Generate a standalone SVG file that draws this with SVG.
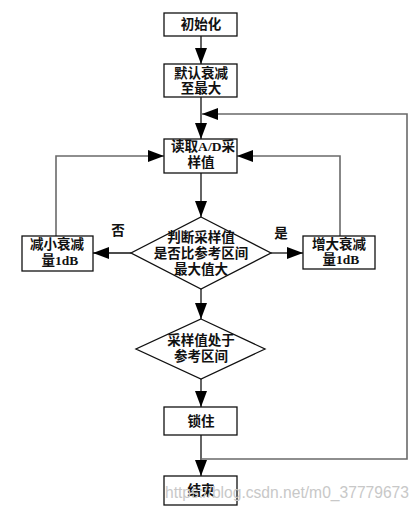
<svg xmlns="http://www.w3.org/2000/svg" width="420" height="512" viewBox="0 0 420 512">
<style>
.box{fill:#fff;stroke:#111;stroke-width:1.3}
.t{font-family:"Liberation Serif","Noto Sans CJK SC",serif;font-size:13.5px;font-weight:bold;fill:#111;text-anchor:middle}
.c{fill:none;stroke:#111;stroke-width:1.3}
.g{fill:none;stroke:#6a6a6a;stroke-width:1.6}
.wm{font-family:"Liberation Sans",Arial,sans-serif;font-size:16px;fill:#c8c8c8}
</style>
<defs>
<marker id="ah" markerUnits="userSpaceOnUse" markerWidth="16" markerHeight="12" refX="16" refY="6" orient="auto">
<path d="M0,0 L16,6 L0,12 z" fill="#000"/>
</marker>
</defs>
<rect width="420" height="512" fill="#fff"/>
<g id="connectors">
<line class="c" x1="201" y1="36" x2="201" y2="64" marker-end="url(#ah)"/>
<line class="c" x1="201" y1="97" x2="201" y2="139" marker-end="url(#ah)"/>
<line class="c" x1="201" y1="173" x2="201" y2="217" marker-end="url(#ah)"/>
<line class="c" x1="201" y1="289" x2="201" y2="319" marker-end="url(#ah)"/>
<line class="c" x1="201" y1="379" x2="201" y2="407" marker-end="url(#ah)"/>
<line class="c" x1="201" y1="435" x2="201" y2="476" marker-end="url(#ah)"/>
<polyline class="g" points="201,459 407,459 407,114 202,114" marker-end="url(#ah)"/>
<line class="c" x1="131" y1="253" x2="93" y2="253" marker-end="url(#ah)"/>
<polyline class="g" points="56,236 56,156 164,156" marker-end="url(#ah)"/>
<line class="c" x1="271" y1="253" x2="303" y2="253" marker-end="url(#ah)"/>
<polyline class="g" points="340,236 340,156 237,156" marker-end="url(#ah)"/>
<text class="t" x="118" y="235">否</text>
<text class="t" x="281" y="238">是</text>
</g>
<g id="init">
<rect class="box" x="164" y="13" width="73" height="23"/>
<text class="t" x="201" y="29">初始化</text>
</g>
<g id="default">
<rect class="box" x="164" y="64" width="73" height="33"/>
<text class="t" x="201" y="78">默认衰减</text>
<text class="t" x="201" y="93">至最大</text>
</g>
<g id="read">
<rect class="box" x="164" y="139" width="73" height="34"/>
<text class="t" x="203" y="151" textLength="64" lengthAdjust="spacingAndGlyphs">读取A/D采</text>
<text class="t" x="201" y="167">样值</text>
</g>
<g id="judge">
<polygon class="box" points="201,217 271,253 201,289 131,253"/>
<text class="t" x="201" y="242">判断采样值</text>
<text class="t" x="201" y="258">是否比参考区间</text>
<text class="t" x="201" y="274">最大值大</text>
</g>
<g id="decrease">
<rect class="box" x="22" y="236" width="71" height="35"/>
<text class="t" x="57" y="249">减小衰减</text>
<text class="t" x="60" y="265">量1dB</text>
</g>
<g id="increase">
<rect class="box" x="303" y="236" width="72" height="33"/>
<text class="t" x="339" y="249">增大衰减</text>
<text class="t" x="341" y="264">量1dB</text>
</g>
<g id="inrange">
<polygon class="box" points="201,319 265,349 201,379 136,349"/>
<text class="t" x="201" y="345">采样值处于</text>
<text class="t" x="201" y="361">参考区间</text>
</g>
<g id="lock">
<rect class="box" x="164" y="407" width="73" height="28"/>
<text class="t" x="201" y="426">锁住</text>
</g>
<g id="end">
<rect class="box" x="164" y="476" width="73" height="29"/>
<text class="t" x="201" y="495">结束</text>
</g>
<text class="wm" x="165" y="498" textLength="244" lengthAdjust="spacingAndGlyphs">https://blog.csdn.net/m0_37779673</text>
</svg>
